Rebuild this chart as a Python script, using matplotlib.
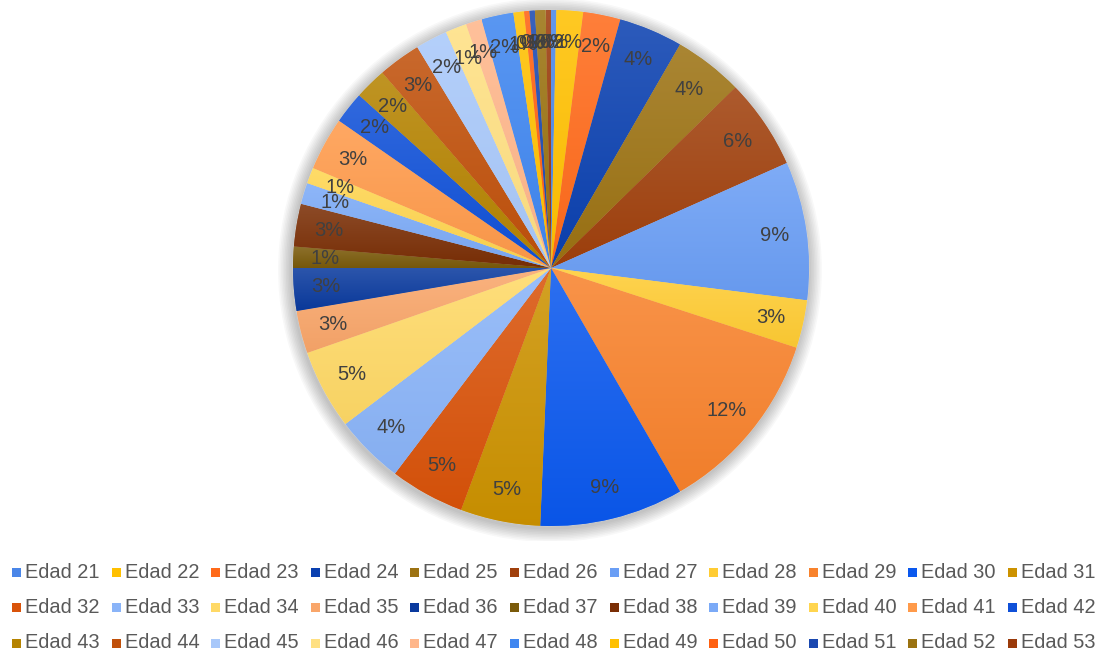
import numpy as np
import matplotlib
matplotlib.use("Agg")
import matplotlib.pyplot as plt
from matplotlib.colors import to_rgb
from matplotlib.patches import Rectangle, Circle

plt.rcParams["font.family"] = ["Liberation Sans", "DejaVu Sans"]

# Number of people per age (Edad 21 .. Edad 53)
edades = [f"Edad {a}" for a in range(21, 54)]
conteos = [1, 5, 7, 12, 13, 17, 26, 9, 35, 27, 15,
           14, 13, 15, 8, 8, 4, 8, 4, 3, 10, 6,
           6, 8, 6, 4, 3, 6, 2, 1, 1, 2, 1]

colores = ["#4A86E8", "#FFC000", "#FF6A1A", "#0A40B0", "#9C7212", "#A0400C",
           "#6A9EF5", "#FFCC33", "#F8822C", "#0A58EE", "#CC9200",
           "#D9530A", "#8AB4F8", "#FFD966", "#F9A66A", "#0A3A9E", "#7A5A0A",
           "#7A2E05", "#7BAAF7", "#FFD54F", "#FF9A4A", "#0F50D8",
           "#B58300", "#C0500A", "#A8C8FA", "#FFE082", "#FFB68A", "#3F86F0",
           "#FFC000", "#FF6010", "#1A48B0", "#9A7210", "#9A3A0A"]

W, H = 1108, 657
fig = plt.figure(figsize=(W / 100, H / 100), dpi=100)
fig.patch.set_facecolor("white")

cx, cy, r = 551, 268, 258
pad = 1.06
ax = fig.add_axes([(cx - r * pad) / W, (H - cy - r * pad) / H,
                   2 * r * pad / W, 2 * r * pad / H])

# soft shadow around the pie
for k in range(9):
    ax.add_patch(Circle((-0.004, -0.008), 1.0 + 0.006 * (k + 1),
                        facecolor="#000000", alpha=0.028, lw=0, zorder=0))

wedges, texts, autotexts = ax.pie(
    conteos, colors=colores, startangle=90, counterclock=False,
    radius=1.0, autopct="%1.0f%%", pctdistance=0.875,
    wedgeprops=dict(linewidth=0.5, edgecolor=(1, 1, 1, 0.35)),
    textprops=dict(color="#404040", fontsize=14.5))
ax.set_aspect("equal")
ax.axis("off")

# vertical shading inside each slice: lighter at the top
for w, c in zip(wedges, colores):
    base = np.array(to_rgb(c))
    top = base + (1 - base) * 0.14
    bot = base * 0.97
    t = np.linspace(0, 1, 64)[:, None]
    grad = (top[None, :] * (1 - t) + bot[None, :] * t)[:, None, :]
    bb = w.get_path().get_extents(w.get_patch_transform())
    im = ax.imshow(grad, extent=[bb.x0, bb.x1, bb.y0, bb.y1],
                   origin="upper", aspect="auto", zorder=1.5,
                   interpolation="bilinear")
    im.set_clip_path(w)
for t_ in autotexts:
    t_.set_zorder(3)
ax.set_xlim(-pad, pad)
ax.set_ylim(-pad, pad)

# legend: 3 rows x 11 columns
ncol = 11
x0, dx = 12, 99.6
rows_y = [572, 607.5, 643]
for i, (lab, c) in enumerate(zip(edades, colores)):
    row, col = divmod(i, ncol)
    x = x0 + col * dx
    y = rows_y[row]
    fig.patches.append(Rectangle((x / W, (H - y - 4.5) / H), 9 / W, 9 / H,
                                 transform=fig.transFigure, facecolor=c,
                                 edgecolor="none"))
    fig.text((x + 13) / W, (H - y) / H, lab, fontsize=14.4, color="#595959",
             va="center", ha="left")

fig.savefig("out.png", dpi=100, facecolor="white")
